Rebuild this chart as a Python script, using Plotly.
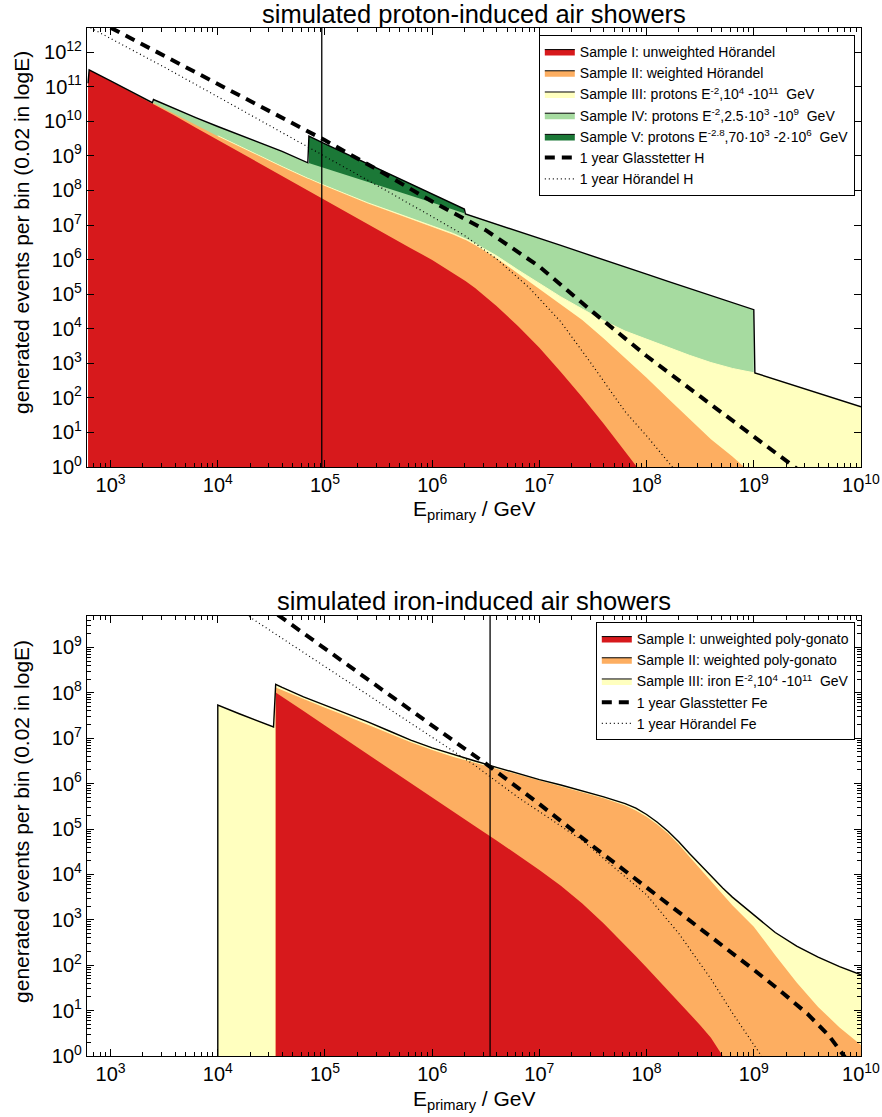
import numpy as np
import plotly.graph_objects as go

# ---------------- proton panel ----------------
# bin positions, log10(E / GeV)
log_e_p = [2.79, 2.80, 3.00, 3.20, 3.39, 3.40, 3.60, 3.80, 4.00, 4.20, 4.40, 4.60, 4.84, 4.85,
           5.00, 5.20, 5.40, 5.60, 5.80, 6.00, 6.20, 6.30, 6.31, 6.40, 6.60, 6.80, 7.00, 7.20,
           7.40, 7.60, 7.80, 7.91, 8.00, 8.20, 8.40, 8.60, 8.80, 8.91, 9.00, 9.01, 9.20, 9.40,
           9.60, 9.80, 10.00]

# stacked totals, log10(events per bin); None = no events in that sample range
stack_p_I = [11.10, 11.49, 11.16, 10.83, 10.52, 10.50, 10.16, 9.81, 9.46, 9.11, 8.76, 8.41, 7.99, 7.97,
             7.71, 7.37, 7.03, 6.68, 6.33, 5.99, 5.60, 5.40, 5.38, 5.18, 4.66, 4.08, 3.45, 2.75,
             2.02, 1.25, 0.45, 0.00, None, None, None, None, None, None, None, None, None, None,
             None, None, None]
stack_p_II = [11.10, 11.49, 11.17, 10.85, 10.54, 10.52, 10.20, 9.88, 9.57, 9.27, 8.97, 8.68, 8.34, 8.33,
              8.13, 7.87, 7.62, 7.40, 7.18, 6.96, 6.72, 6.58, 6.57, 6.42, 6.04, 5.60, 5.15, 4.70,
              4.25, 3.72, 3.15, 2.85, 2.58, 1.98, 1.38, 0.80, 0.30, 0.00, None, None, None, None,
              None, None, None]
stack_p_III = [None, None, None, None, None, None, None, None, 9.58, 9.28, 8.98, 8.69, 8.35, 8.34,
               8.14, 7.88, 7.64, 7.42, 7.20, 6.98, 6.75, 6.61, 6.60, 6.46, 6.11, 5.70, 5.30, 4.92,
               4.57, 4.23, 3.93, 3.80, 3.68, 3.45, 3.23, 3.02, 2.85, 2.78, 2.73, 2.72, 2.53, 2.33,
               2.13, 1.93, 1.74]
stack_p_IV = [None, None, None, None, None, 10.63, 10.36, 10.10, 9.85, 9.61, 9.37, 9.13, 8.80, 8.79,
              8.64, 8.45, 8.25, 8.06, 7.86, 7.65, 7.44, 7.34, 7.32, 7.23, 7.02, 6.82, 6.61, 6.41,
              6.20, 6.00, 5.79, 5.68, 5.58, 5.37, 5.17, 4.96, 4.76, 4.64, 4.55, None, None, None,
              None, None, None]
stack_p_V = [None, None, None, None, None, None, None, None, None, None, None, None, None, 9.57,
             9.35, 9.06, 8.77, 8.48, 8.19, 7.90, 7.61, 7.46, None, None, None, None, None, None,
             None, None, None, None, None, None, None, None, None, None, None, None, None, None,
             None, None, None]

# one-year expectations (proton)
glass_p_log_e = [3.00, 3.50, 4.00, 4.50, 5.00, 5.50, 6.00, 6.50, 7.00, 7.50, 8.00, 8.50, 9.00, 9.38, 9.50]
glass_p_log_n = [12.71, 11.90, 11.08, 10.26, 9.45, 8.58, 7.68, 6.85, 5.80, 4.48, 3.21, 2.04, 0.88, 0.00, -0.28]
hoer_p_log_e = [2.78, 3.50, 4.00, 4.50, 5.00, 5.50, 6.00, 6.30, 6.60, 6.90, 7.20, 7.50, 7.80, 8.00, 8.24, 8.35]
hoer_p_log_n = [12.76, 11.57, 10.71, 9.85, 8.99, 8.12, 7.24, 6.70, 6.02, 5.20, 4.20, 2.92, 1.60, 0.90, 0.00, -0.40]
e_mark_p = 10 ** 4.97

# ---------------- iron panel ----------------
log_e_fe = [4.00, 4.20, 4.40, 4.52, 4.54, 4.60, 4.80, 5.00, 5.20, 5.40, 5.60, 5.80, 6.00, 6.20,
            6.40, 6.60, 6.80, 7.00, 7.20, 7.40, 7.60, 7.80, 7.90, 8.00, 8.10, 8.20, 8.30, 8.40,
            8.50, 8.60, 8.71, 8.80, 9.00, 9.20, 9.40, 9.60, 9.80, 10.00]
stack_fe_I = [None, None, None, None, 8.01, 7.92, 7.60, 7.28, 6.96, 6.64, 6.32, 6.00, 5.68, 5.37,
              5.06, 4.75, 4.43, 4.10, 3.75, 3.36, 2.92, 2.45, 2.20, 1.95, 1.70, 1.45, 1.20, 0.95,
              0.68, 0.40, 0.00, None, None, None, None, None, None, None]
stack_fe_II = [None, None, None, None, 8.12, 8.06, 7.86, 7.67, 7.49, 7.30, 7.10, 6.91, 6.74, 6.59,
               6.46, 6.33, 6.20, 6.07, 5.95, 5.82, 5.68, 5.52, 5.41, 5.27, 5.10, 4.90, 4.66, 4.39,
               4.12, 3.85, 3.55, 3.32, 2.85, 2.22, 1.62, 1.08, 0.63, 0.24]
stack_fe_III = [7.73, 7.54, 7.36, 7.25, 8.19, 8.12, 7.91, 7.73, 7.55, 7.36, 7.16, 6.96, 6.79, 6.64,
                6.50, 6.36, 6.22, 6.09, 5.97, 5.84, 5.71, 5.56, 5.46, 5.32, 5.15, 4.95, 4.72, 4.46,
                4.21, 3.96, 3.70, 3.50, 3.10, 2.72, 2.42, 2.18, 1.97, 1.79]

glass_fe_log_e = [4.56, 5.00, 5.50, 6.00, 6.50, 7.00, 7.50, 8.00, 8.50, 9.00, 9.25, 9.50, 9.70, 9.83, 10.00]
glass_fe_log_n = [9.72, 8.97, 8.12, 7.28, 6.44, 5.55, 4.62, 3.72, 2.80, 1.90, 1.43, 0.93, 0.45, 0.06, -0.50]
hoer_fe_log_e = [4.26, 4.90, 5.50, 6.00, 6.40, 6.80, 7.10, 7.40, 7.70, 8.00, 8.30, 8.60, 8.80, 9.00, 9.10]
hoer_fe_log_n = [9.73, 8.74, 7.80, 7.03, 6.40, 5.70, 5.22, 4.75, 4.15, 3.55, 2.70, 1.70, 0.95, 0.25, -0.10]
e_mark_fe = 10 ** 6.54

# axes
x_range_log = [2.78, 10.0]
y_range_p_log = [0.0, 12.7]
y_range_fe_log = [0.0, 9.7]
x_tick_exp = list(range(3, 11))
y_tick_exp_p = list(range(0, 13))
y_tick_exp_fe = list(range(0, 10))

COL = {"I": "#d7191c", "II": "#fdae61", "III": "#ffffbf", "IV": "#a6dba0", "V": "#1b7837"}
FONT = "Liberation Sans, Arial, sans-serif"


def to_counts(vals):
    return np.array([np.nan if v is None else 10.0 ** v for v in vals], dtype=float)


def energies(log_vals):
    return 10.0 ** np.asarray(log_vals, dtype=float)


fig = go.Figure()


def add_fill(x, logs, color, xa, ya, edge=None):
    fig.add_trace(go.Scatter(
        x=x, y=to_counts(logs), mode="lines", fill="tozeroy", fillcolor=color,
        line=dict(color=edge or color, width=1.0 if edge else 0),
        xaxis=xa, yaxis=ya, showlegend=False, hoverinfo="skip"))


def add_outline(x, stacks, xa, ya, floor=None):
    tot = np.nanmax(np.vstack([to_counts(s) for s in stacks]), axis=0)
    xs = np.asarray(x, dtype=float)
    if floor is not None:
        xs = np.concatenate([[xs[0]], xs])
        tot = np.concatenate([[floor], tot])
    fig.add_trace(go.Scatter(x=xs, y=tot, mode="lines", line=dict(color="black", width=1.4),
                             xaxis=xa, yaxis=ya, showlegend=False, hoverinfo="skip"))


def add_vline(e, yr, xa, ya):
    fig.add_trace(go.Scatter(x=[e, e], y=[10 ** yr[0], 10 ** yr[1]], mode="lines",
                             line=dict(color="black", width=1.3), xaxis=xa, yaxis=ya,
                             showlegend=False, hoverinfo="skip"))


def add_proxy(name, color, legend):
    fig.add_trace(go.Scatter(x=[None], y=[None], mode="lines", fill="toself", fillcolor=color,
                             line=dict(color="black", width=1), name=name, legend=legend,
                             xaxis="x", yaxis="y"))


# ---- proton panel ----
xp = energies(log_e_p)
add_fill(xp, stack_p_V, COL["V"], "x", "y")
add_fill(xp, stack_p_IV, COL["IV"], "x", "y")
add_fill(xp, stack_p_III, COL["III"], "x", "y", edge=COL["III"])
add_fill(xp, stack_p_II, COL["II"], "x", "y")
add_fill(xp, stack_p_I, COL["I"], "x", "y")
add_outline(xp, [stack_p_I, stack_p_II, stack_p_III, stack_p_IV, stack_p_V], "x", "y")
add_vline(e_mark_p, y_range_p_log, "x", "y")

add_proxy("Sample I: unweighted Hörandel", COL["I"], "legend")
add_proxy("Sample II: weighted Hörandel", COL["II"], "legend")
add_proxy("Sample III: protons E<sup>-2</sup>,10<sup>4</sup> -10<sup>11</sup>  GeV", COL["III"], "legend")
add_proxy("Sample IV: protons E<sup>-2</sup>,2.5·10<sup>3</sup> -10<sup>9</sup>  GeV", COL["IV"], "legend")
add_proxy("Sample V: protons E<sup>-2.8</sup>,70·10<sup>3</sup> -2·10<sup>6</sup>  GeV", COL["V"], "legend")

fig.add_trace(go.Scatter(x=energies(glass_p_log_e), y=energies(glass_p_log_n), mode="lines",
                         line=dict(color="black", width=4, dash="10px,7px"),
                         name="1 year Glasstetter H", legend="legend", xaxis="x", yaxis="y"))
fig.add_trace(go.Scatter(x=energies(hoer_p_log_e), y=energies(hoer_p_log_n), mode="lines",
                         line=dict(color="black", width=1.2, dash="1px,3px"),
                         name="1 year Hörandel H", legend="legend", xaxis="x", yaxis="y"))

# ---- iron panel ----
xf = energies(log_e_fe)
add_fill(xf, stack_fe_III, COL["III"], "x2", "y2", edge=COL["III"])
add_fill(xf, stack_fe_II, COL["II"], "x2", "y2")
add_fill(xf, stack_fe_I, COL["I"], "x2", "y2")
add_outline(xf, [stack_fe_I, stack_fe_II, stack_fe_III], "x2", "y2", floor=10 ** y_range_fe_log[0])
add_vline(e_mark_fe, y_range_fe_log, "x2", "y2")

add_proxy("Sample I: unweighted poly-gonato", COL["I"], "legend2")
add_proxy("Sample II: weighted poly-gonato", COL["II"], "legend2")
add_proxy("Sample III: iron E<sup>-2</sup>,10<sup>4</sup> -10<sup>11</sup>  GeV", COL["III"], "legend2")

fig.add_trace(go.Scatter(x=energies(glass_fe_log_e), y=energies(glass_fe_log_n), mode="lines",
                         line=dict(color="black", width=4, dash="10px,7px"),
                         name="1 year Glasstetter Fe", legend="legend2", xaxis="x2", yaxis="y2"))
fig.add_trace(go.Scatter(x=energies(hoer_fe_log_e), y=energies(hoer_fe_log_n), mode="lines",
                         line=dict(color="black", width=1.2, dash="1px,3px"),
                         name="1 year Hörandel Fe", legend="legend2", xaxis="x2", yaxis="y2"))

# ---- axes ----
minor_x = [m * 10.0 ** d for d in range(2, 10) for m in range(2, 10)]
minor_y_fe = [m * 10.0 ** d for d in range(0, 10) for m in range(2, 10)]
TICK_FONT = dict(family=FONT, size=20, color="black")


def x_axis(anchor):
    return dict(
        type="log", range=x_range_log, anchor=anchor, automargin=False,
        tickmode="array", tickvals=[10.0 ** k for k in x_tick_exp],
        ticktext=[f"10<sup>{k}</sup>" for k in x_tick_exp],
        ticks="inside", ticklen=7, tickwidth=1, tickcolor="black",
        minor=dict(tickmode="array", tickvals=minor_x, ticks="inside", ticklen=4,
                   tickwidth=1, tickcolor="black", showgrid=False),
        showline=True, linecolor="black", linewidth=1.2, mirror="allticks",
        showgrid=False, zeroline=False, tickfont=TICK_FONT,
    )


def y_axis(yr, exps, domain, anchor, minor_vals=None):
    d = dict(
        type="log", range=yr, domain=domain, anchor=anchor, automargin=False,
        tickmode="array", tickvals=[10.0 ** k for k in exps],
        ticktext=[f"10<sup>{k}</sup>" for k in exps],
        ticks="inside", ticklen=7, tickwidth=1, tickcolor="black",
        showline=True, linecolor="black", linewidth=1.2, mirror="allticks",
        showgrid=False, zeroline=False, tickfont=TICK_FONT,
    )
    if minor_vals is not None:
        d["minor"] = dict(tickmode="array", tickvals=minor_vals, ticks="inside", ticklen=4,
                          tickwidth=1, tickcolor="black", showgrid=False)
    return d


legend_style = dict(bgcolor="white", bordercolor="black", borderwidth=1,
                    font=dict(family=FONT, size=14, color="black"),
                    xanchor="right", yanchor="top", itemwidth=30, tracegroupgap=0)


def text_note(text, x, y, size, angle=0):
    return dict(text=text, xref="paper", yref="paper", x=x, y=y, xanchor="center",
                yanchor="middle", showarrow=False, textangle=angle,
                font=dict(family=FONT, size=size, color="black"))


Y_LABEL = "generated events per bin (0.02 in logE)"
X_LABEL = "E<sub>primary</sub> / GeV"

fig.update_layout(
    width=882, height=1117,
    margin=dict(l=87, r=21, t=28, b=61, autoexpand=False),
    paper_bgcolor="white", plot_bgcolor="white",
    font=dict(family=FONT, color="black"),
    xaxis=x_axis("y"),
    yaxis=y_axis(y_range_p_log, y_tick_exp_p, [0.573, 1.0], "x"),
    xaxis2=x_axis("y2"),
    yaxis2=y_axis(y_range_fe_log, y_tick_exp_fe, [0.0, 0.4283], "x2", minor_y_fe),
    legend=dict(x=0.992, y=0.9932, **legend_style),
    legend2=dict(x=0.992, y=0.4222, **legend_style),
    annotations=[
        text_note("simulated proton-induced air showers", 0.5, 1.0136, 25.5),
        text_note("simulated iron-induced air showers", 0.5, 0.4426, 25.5),
        text_note(X_LABEL, 0.5, 0.5311, 21),
        text_note(X_LABEL, 0.5, -0.0428, 21),
        text_note(Y_LABEL, -0.084, 0.8016, 21, angle=-90),
        text_note(Y_LABEL, -0.084, 0.2286, 21, angle=-90),
    ],
)

fig.write_html("out.html", post_script="document.body.style.margin='0';")
